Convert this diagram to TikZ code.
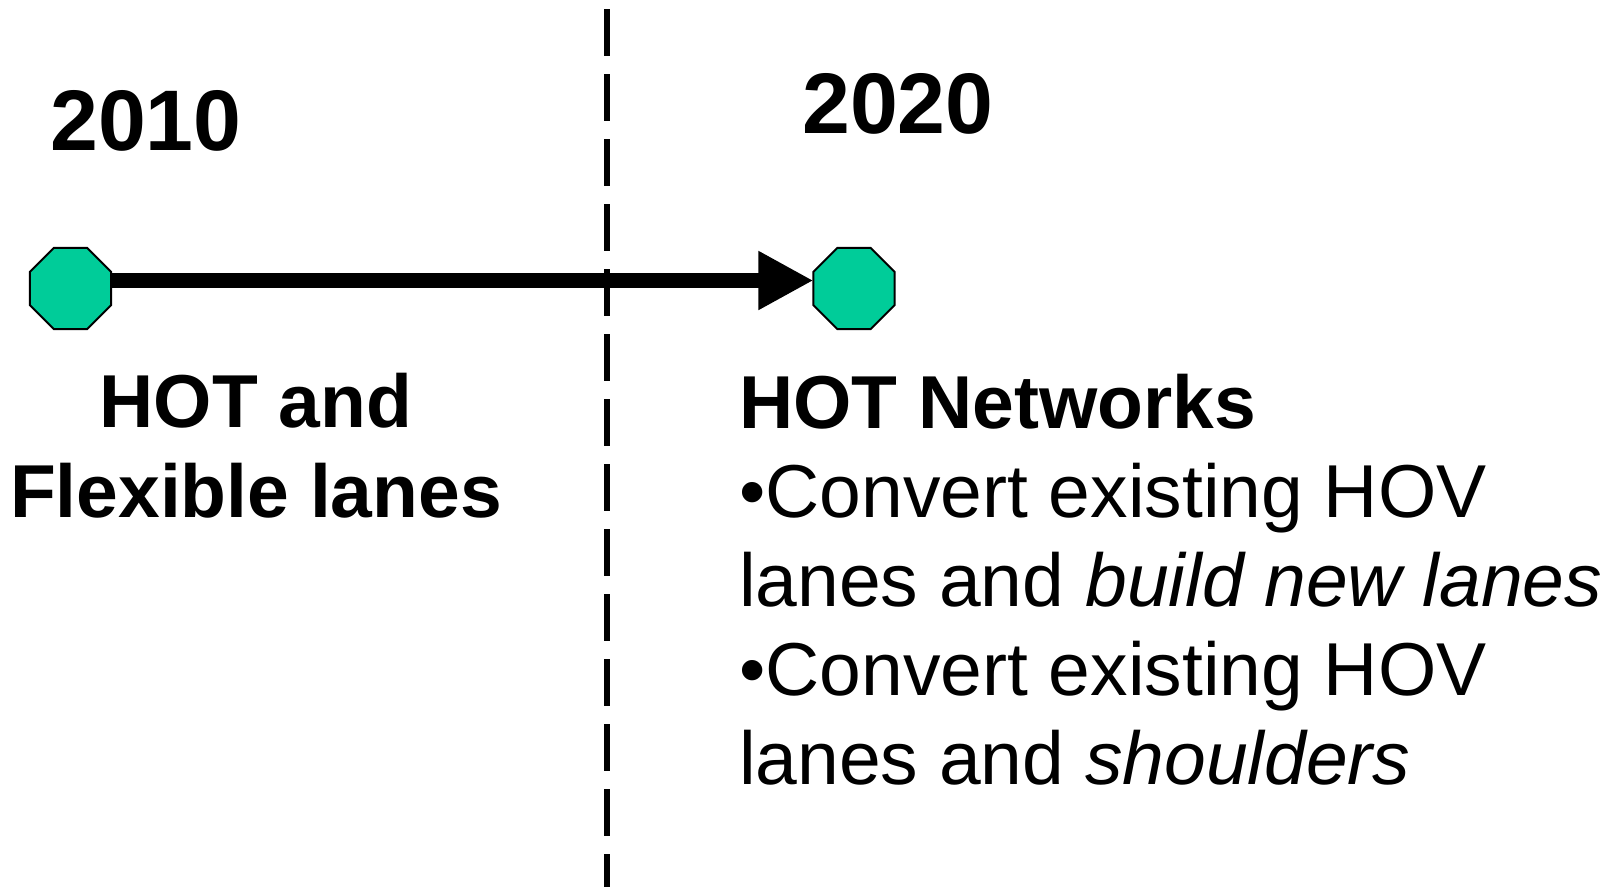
\documentclass[tikz,border=0pt]{standalone}
\usepackage{fontspec}
\setmainfont{Liberation Sans}
\usetikzlibrary{shapes.geometric,arrows.meta}
\definecolor{octgreen}{HTML}{00CC99}

\begin{document}
\begin{tikzpicture}[x=1pt,y=-1pt]
\useasboundingbox (0,0) rectangle (1617,887);

\coordinate (P1) at (70.5,288.5);
\coordinate (P2) at (854,288.5);
\coordinate (D1) at (607,9);
\coordinate (D2) at (607,887);


\tikzset{DashStyle/.style = {line width=6pt, dash pattern=on 47pt off 18pt} }

\draw[DashStyle] (D1) -- (D2);


\tikzset{VertexStyle/.style = {
 shape = regular polygon,
 regular polygon sides = 8,
 fill = octgreen,
 draw = black,
 line width = 2pt,
 inner sep = 0pt,
 outer sep = 0pt,
 minimum size = 87.7pt} }

\node[VertexStyle] (S1) at (P1) {};
\node[VertexStyle] (S2) at (P2) {};


\tikzset{EdgeStyle/.style = {line width=14.5pt, -{Triangle[length=55pt,width=55pt]}} }

\draw[EdgeStyle] ([yshift=8pt]S1.east) -- ([yshift=8pt]S2.west);


\tikzset{YearStyle/.style = {
 anchor = base west,
 inner sep = 0pt,
 font = \fontsize{86}{103}\selectfont\bfseries} }

\node[YearStyle] (Y1) at (50,150) {2010};
\node[YearStyle] (Y2) at (802,133) {2020};


\tikzset{TextStyle/.style = {
 inner sep = 0pt,
 anchor = base,
 font = \fontsize{75}{89}\selectfont} }

\node[TextStyle, align=center, font=\fontsize{75}{90}\selectfont\bfseries] (T1) at (256,517)
 {HOT and\\Flexible lanes};
\node[TextStyle, align=left, anchor=base west] (T2) at (739,784)
 {\textbf{HOT Networks}\\
  •Convert existing HOV\\
  lanes and \textit{build new lanes}\\
  •Convert existing HOV\\
  lanes and \textit{shoulders}};

\end{tikzpicture}
\end{document}
